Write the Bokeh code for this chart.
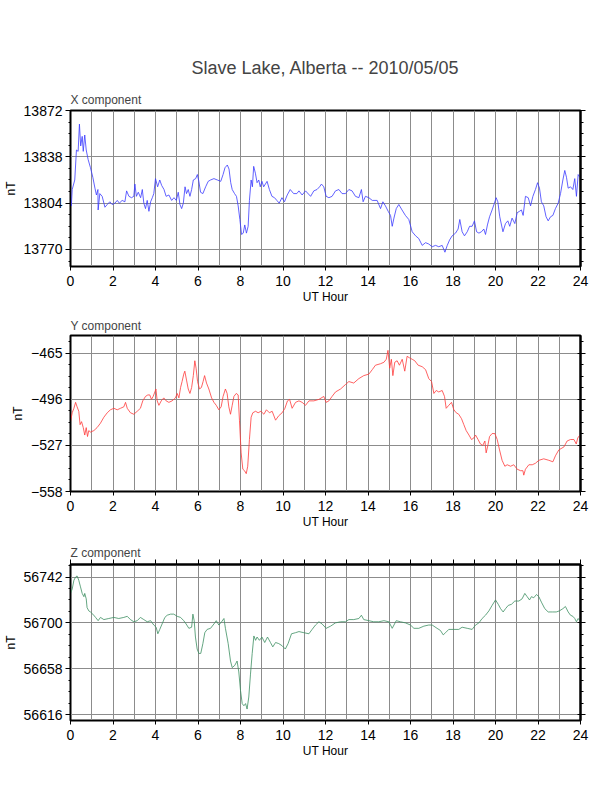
import numpy as np
from bokeh.plotting import figure
from bokeh.layouts import column
from bokeh.models import Range1d, LinearAxis, FixedTicker, Title
from bokeh.embed import file_html
from bokeh.resources import INLINE

FONT = "Liberation Sans"

main_title = "Slave Lake, Alberta -- 2010/05/05"
hour_labels = list(range(0, 25, 2))
hour_grid = list(range(0, 25))

# X component (nT)
x_hours = [0, 0.04, 0.08, 0.2, 0.28, 0.36, 0.42, 0.48, 0.55, 0.6, 0.67, 0.74, 0.83, 0.94, 1.05,
           1.15, 1.22, 1.29, 1.3, 1.38, 1.49, 1.62, 1.73, 1.85, 1.96, 2.09, 2.2, 2.3, 2.43, 2.56,
           2.64, 2.75, 2.87, 2.98, 3.03, 3.1, 3.19, 3.3, 3.38, 3.45, 3.53, 3.61, 3.69, 3.77, 3.85,
           3.92, 4.0, 4.1, 4.2, 4.29, 4.4, 4.5, 4.63, 4.76, 4.87, 4.98, 5.07, 5.15, 5.23, 5.31,
           5.39, 5.46, 5.54, 5.62, 5.7, 5.78, 5.89, 5.97, 6.04, 6.12, 6.23, 6.36, 6.48, 6.59, 6.75,
           6.91, 7.07, 7.18, 7.27, 7.38, 7.46, 7.54, 7.61, 7.72, 7.81, 7.89, 7.97, 8.05, 8.13, 8.2,
           8.28, 8.36, 8.42, 8.5, 8.56, 8.62, 8.7, 8.78, 8.86, 8.93, 9.01, 9.09, 9.25, 9.36, 9.48,
           9.6, 9.71, 9.82, 9.95, 10.07, 10.2, 10.34, 10.5, 10.65, 10.75, 10.9, 11.06, 11.3, 11.45,
           11.6, 11.72, 11.81, 11.92, 12.03, 12.16, 12.31, 12.47, 12.63, 12.78, 12.94, 13.1, 13.25,
           13.41, 13.57, 13.69, 13.77, 13.88, 14.04, 14.2, 14.43, 14.59, 14.7, 14.82, 14.95, 15.06,
           15.14, 15.22, 15.33, 15.45, 15.6, 15.76, 15.92, 16.08, 16.24, 16.39, 16.55, 16.71, 16.86,
           17.02, 17.18, 17.33, 17.49, 17.62, 17.73, 17.84, 17.96, 18.12, 18.24, 18.32, 18.43, 18.54,
           18.67, 18.78, 18.9, 19.01, 19.11, 19.22, 19.34, 19.45, 19.53, 19.62, 19.72, 19.84, 19.95,
           20.03, 20.11, 20.2, 20.35, 20.47, 20.58, 20.67, 20.78, 20.91, 21.02, 21.13, 21.22, 21.3,
           21.41, 21.54, 21.65, 21.76, 21.88, 21.98, 22.07, 22.16, 22.27, 22.38, 22.48, 22.59, 22.7,
           22.82, 22.95, 23.06, 23.17, 23.26, 23.34, 23.42, 23.53, 23.64, 23.73, 23.81, 23.89, 23.97]
x_vals = [13805, 13802, 13814, 13821, 13843, 13842, 13862, 13846, 13853, 13842, 13854, 13843, 13836,
          13830, 13823, 13815, 13810, 13814, 13799, 13811, 13809, 13801, 13803, 13805, 13803, 13804,
          13806, 13804, 13806, 13805, 13813, 13809, 13808, 13809, 13818, 13809, 13812, 13808, 13814,
          13804, 13800, 13806, 13798, 13805, 13808, 13811, 13822, 13816, 13821, 13817, 13814, 13809,
          13810, 13806, 13808, 13806, 13812, 13803, 13800, 13804, 13816, 13811, 13814, 13809, 13814,
          13821, 13822, 13825, 13820, 13812, 13811, 13816, 13820, 13821, 13822, 13821, 13820, 13825,
          13830, 13832, 13829, 13819, 13814, 13811, 13809, 13802, 13792, 13781, 13782, 13788, 13782,
          13787, 13806, 13821, 13816, 13831, 13826, 13819, 13821, 13816, 13820, 13816, 13820, 13814,
          13809, 13808, 13806, 13804, 13808, 13805, 13810, 13814, 13811, 13811, 13813, 13810, 13813,
          13809, 13813, 13814, 13816, 13818, 13816, 13809, 13808, 13809, 13813, 13814, 13811, 13811,
          13814, 13813, 13809, 13808, 13814, 13805, 13809, 13808, 13806, 13806, 13800, 13805, 13802,
          13798, 13795, 13787, 13793, 13800, 13803, 13799, 13795, 13792, 13783, 13780, 13778, 13773,
          13775, 13774, 13772, 13773, 13772, 13773, 13768, 13773, 13777, 13780, 13782, 13785, 13792,
          13783, 13780, 13783, 13787, 13787, 13791, 13783, 13782, 13783, 13785, 13781, 13788, 13794,
          13799, 13804, 13808, 13805, 13794, 13783, 13789, 13791, 13787, 13793, 13789, 13797, 13798,
          13799, 13795, 13809, 13808, 13802, 13809, 13814, 13819, 13815, 13805, 13802, 13794, 13791,
          13794, 13795, 13800, 13804, 13811, 13821, 13828, 13823, 13815, 13816, 13814, 13822, 13809,
          13825, 13823]

# Y component (nT)
y_hours = [0, 0.08, 0.16, 0.24, 0.31, 0.39, 0.45, 0.52, 0.6, 0.67, 0.74, 0.8, 0.86, 0.94, 1.1,
           1.25, 1.41, 1.57, 1.73, 1.88, 2.04, 2.2, 2.35, 2.51, 2.59, 2.67, 2.82, 2.98, 3.14, 3.29,
           3.4, 3.53, 3.64, 3.73, 3.81, 3.89, 3.97, 4.02, 4.08, 4.16, 4.27, 4.39, 4.5, 4.63, 4.78,
           4.94, 5.02, 5.1, 5.18, 5.25, 5.33, 5.38, 5.46, 5.54, 5.62, 5.7, 5.78, 5.85, 5.91, 5.98,
           6.07, 6.16, 6.24, 6.31, 6.4, 6.51, 6.64, 6.75, 6.86, 6.98, 7.09, 7.18, 7.29, 7.37, 7.45,
           7.53, 7.61, 7.69, 7.8, 7.89, 7.95, 8.03, 8.11, 8.19, 8.27, 8.34, 8.42, 8.5, 8.58, 8.71,
           8.83, 8.96, 9.1, 9.22, 9.36, 9.49, 9.65, 9.8, 9.96, 10.09, 10.21, 10.31, 10.43, 10.59,
           10.75, 10.9, 11.06, 11.22, 11.45, 11.69, 11.92, 12.03, 12.16, 12.31, 12.47, 12.71, 12.94,
           13.1, 13.33, 13.57, 13.8, 14.04, 14.2, 14.35, 14.59, 14.75, 14.86, 14.94, 15.02, 15.1,
           15.17, 15.26, 15.37, 15.48, 15.61, 15.73, 15.84, 15.95, 16.08, 16.2, 16.36, 16.55, 16.71,
           16.86, 16.99, 17.1, 17.21, 17.33, 17.49, 17.6, 17.68, 17.8, 17.93, 18.04, 18.15, 18.27,
           18.4, 18.51, 18.62, 18.75, 18.87, 18.98, 19.06, 19.18, 19.29, 19.4, 19.5, 19.56, 19.64,
           19.72, 19.84, 19.97, 20.08, 20.19, 20.31, 20.44, 20.55, 20.71, 20.86, 21.02, 21.18, 21.29,
           21.33, 21.41, 21.57, 21.73, 21.88, 22.04, 22.27, 22.51, 22.7, 22.82, 22.98, 23.22, 23.37,
           23.53, 23.69, 23.8, 23.87, 23.97]
y_vals = [-511, -505, -502, -498, -501, -504, -513, -511, -515, -520, -515, -521, -517, -518, -517,
          -515, -512, -508, -505, -503, -502, -503, -502, -501, -498, -502, -505, -506, -504, -502,
          -497, -494, -493, -493, -496, -494, -491, -489, -497, -500, -497, -495, -497, -498, -497,
          -495, -492, -495, -488, -484, -479, -477, -483, -489, -492, -488, -480, -470, -475, -484,
          -489, -488, -484, -480, -485, -489, -495, -498, -500, -503, -501, -494, -489, -492, -501,
          -506, -500, -494, -492, -493, -510, -532, -543, -544, -546, -541, -523, -508, -505, -504,
          -505, -504, -506, -503, -505, -504, -510, -507, -505, -502, -497, -496, -502, -498, -497,
          -498, -500, -497, -497, -496, -494, -498, -497, -494, -491, -489, -486, -484, -485, -482,
          -480, -479, -476, -473, -472, -471, -469, -463, -475, -469, -480, -471, -470, -473, -469,
          -477, -467, -468, -469, -470, -473, -474, -476, -482, -484, -492, -490, -491, -490, -494,
          -502, -500, -498, -503, -505, -506, -509, -513, -517, -520, -523, -522, -520, -523, -526,
          -527, -524, -532, -527, -521, -519, -519, -523, -530, -537, -541, -540, -541, -540, -543,
          -544, -544, -547, -543, -540, -540, -539, -537, -536, -537, -538, -534, -530, -528, -524,
          -523, -523, -526, -522, -520]

# Z component (nT)
z_hours = [0, 0.08, 0.16, 0.24, 0.31, 0.39, 0.47, 0.55, 0.63, 0.67, 0.74, 0.78, 0.86, 0.94, 1.05,
           1.18, 1.3, 1.41, 1.57, 1.8, 2.04, 2.27, 2.51, 2.67, 2.82, 2.98, 3.14, 3.29, 3.45, 3.61,
           3.77, 3.92, 4.03, 4.11, 4.2, 4.31, 4.44, 4.55, 4.71, 4.86, 5.02, 5.18, 5.33, 5.44, 5.57,
           5.7, 5.76, 5.82, 5.88, 5.96, 6.04, 6.13, 6.23, 6.32, 6.43, 6.59, 6.75, 6.86, 6.98, 7.11,
           7.22, 7.29, 7.42, 7.53, 7.61, 7.73, 7.84, 7.92, 8.0, 8.08, 8.16, 8.24, 8.31, 8.39, 8.47,
           8.55, 8.63, 8.71, 8.78, 8.89, 9.01, 9.14, 9.27, 9.41, 9.52, 9.65, 9.8, 9.96, 10.11, 10.24,
           10.4, 10.59, 10.75, 10.98, 11.22, 11.37, 11.53, 11.69, 11.84, 12.03, 12.24, 12.47, 12.71,
           12.94, 13.1, 13.33, 13.57, 13.69, 13.8, 14.04, 14.27, 14.51, 14.75, 14.98, 15.14, 15.33,
           15.53, 15.76, 16.0, 16.16, 16.39, 16.63, 16.86, 17.02, 17.25, 17.41, 17.54, 17.65, 17.8,
           18.04, 18.27, 18.43, 18.67, 18.9, 19.06, 19.22, 19.37, 19.53, 19.69, 19.84, 20.0, 20.13,
           20.24, 20.36, 20.47, 20.6, 20.75, 20.91, 21.1, 21.25, 21.38, 21.49, 21.6, 21.69, 21.8,
           21.93, 22.04, 22.16, 22.32, 22.48, 22.67, 22.86, 23.01, 23.17, 23.29, 23.42, 23.53, 23.64,
           23.73, 23.81, 23.89, 23.97]
z_vals = [56727, 56731, 56739, 56742, 56743, 56739, 56733, 56727, 56724, 56727, 56722, 56714, 56711,
          56710, 56708, 56705, 56702, 56705, 56703, 56704, 56705, 56704, 56705, 56706, 56703, 56701,
          56702, 56705, 56703, 56701, 56702, 56698, 56696, 56690, 56694, 56699, 56705, 56707, 56708,
          56708, 56706, 56705, 56702, 56699, 56695, 56696, 56708, 56702, 56687, 56676, 56672, 56672,
          56681, 56691, 56694, 56695, 56699, 56702, 56698, 56701, 56704, 56695, 56681, 56665, 56659,
          56661, 56665, 56655, 56638, 56626, 56624, 56626, 56621, 56632, 56653, 56672, 56688, 56684,
          56687, 56684, 56687, 56682, 56687, 56682, 56678, 56682, 56681, 56679, 56676, 56681, 56690,
          56691, 56692, 56691, 56690, 56694, 56698, 56701, 56699, 56695, 56697, 56700, 56701, 56701,
          56703, 56703, 56704, 56707, 56703, 56702, 56701, 56701, 56702, 56701, 56695, 56702, 56701,
          56700, 56698, 56695, 56695, 56697, 56698, 56698, 56695, 56693, 56689, 56691, 56694, 56694,
          56694, 56696, 56695, 56694, 56698, 56700, 56704, 56707, 56711, 56716, 56721, 56717, 56713,
          56710, 56713, 56716, 56717, 56720, 56720, 56722, 56727, 56724, 56721, 56724, 56723, 56726,
          56724, 56719, 56713, 56710, 56710, 56710, 56711, 56713, 56715, 56710, 56707, 56706, 56704,
          56701, 56704, 56702]

x_ticks = [13770, 13804, 13838, 13872]
y_ticks = [-558, -527, -496, -465]
z_ticks = [56616, 56658, 56700, 56742]


def hidden_labels(ax):
    # tick marks only, no tick labels
    ax.major_label_text_font_size = "1px"
    ax.major_label_text_color = None
    ax.major_label_standoff = 0


def panel(name, hours, vals, color, ticks, lo, hi, top_border, sub_standoff,
          main=None, top_axis=False):
    p = figure(frame_width=510, frame_height=156, x_range=Range1d(0, 24), y_range=Range1d(lo, hi),
               title=None, output_backend="svg", toolbar_location=None,
               min_border_left=63, min_border_right=16, min_border_top=top_border,
               min_border_bottom=40, x_axis_label="UT Hour", y_axis_label="nT")
    p.line(hours, vals, line_color=color, line_width=0.8)

    step = ticks[1] - ticks[0]
    minor = [ticks[0] + i * step / 4 for i in range(-8, 24)]
    minor = [m for m in minor if lo <= m <= hi]

    p.xaxis.ticker = FixedTicker(ticks=hour_labels, minor_ticks=[])
    p.yaxis.ticker = FixedTicker(ticks=ticks, minor_ticks=minor)
    for ax in (p.xaxis, p.yaxis):
        ax.major_label_text_font = FONT
        ax.major_label_text_font_size = "14px"
        ax.major_label_text_color = "black"
        ax.axis_label_text_font = FONT
        ax.axis_label_text_font_size = "12px"
        ax.axis_label_text_font_style = "normal"
        ax.axis_label_text_color = "black"
        ax.axis_line_color = "black"
        ax.major_tick_line_color = "black"
        ax.minor_tick_line_color = "black"
        ax.major_tick_in = 0
        ax.minor_tick_in = 0
    p.xaxis.major_tick_out = 4
    p.xaxis.major_label_standoff = 5
    p.xaxis.axis_label_standoff = 1
    p.yaxis.major_tick_out = 5
    p.yaxis.minor_tick_out = 2
    p.yaxis.major_label_standoff = 3
    p.yaxis.axis_label_standoff = 3

    right = LinearAxis(ticker=FixedTicker(ticks=ticks, minor_ticks=minor),
                       major_tick_in=3, major_tick_out=5,
                       minor_tick_in=0, minor_tick_out=3, axis_line_width=2)
    hidden_labels(right)
    p.add_layout(right, "right")
    if top_axis:
        top = LinearAxis(ticker=FixedTicker(ticks=hour_grid, minor_ticks=[]),
                         major_tick_in=0, major_tick_out=5, axis_line_width=2)
        hidden_labels(top)
        p.add_layout(top, "above")

    p.xgrid.ticker = FixedTicker(ticks=hour_grid)
    p.ygrid.ticker = FixedTicker(ticks=ticks)
    p.xgrid.grid_line_color = "#8c8c8c"
    p.ygrid.grid_line_color = "#8c8c8c"
    p.outline_line_color = "black"
    p.outline_line_width = 2

    p.add_layout(Title(text=name, align="left", text_font=FONT, text_font_size="12px",
                       text_font_style="normal", standoff=sub_standoff), "above")
    if main:
        p.add_layout(Title(text=main, align="center", text_font=FONT, text_font_size="18px",
                           text_font_style="normal", standoff=17), "above")
    return p


p1 = panel("X component", x_hours, x_vals, "#3a3aff", x_ticks, 13757.5, 13872, 110, 8,
           main=main_title)
p2 = panel("Y component", y_hours, y_vals, "#ff3a3a", y_ticks, -558, -453, 29, 6)
p3 = panel("Z component", z_hours, z_vals, "#3d8f62", z_ticks, 56610.5, 56753.5, 33, 0,
           top_axis=True)

p = column(p1, p2, p3, spacing=0)
open("out.html", "w").write(file_html(p, INLINE))
